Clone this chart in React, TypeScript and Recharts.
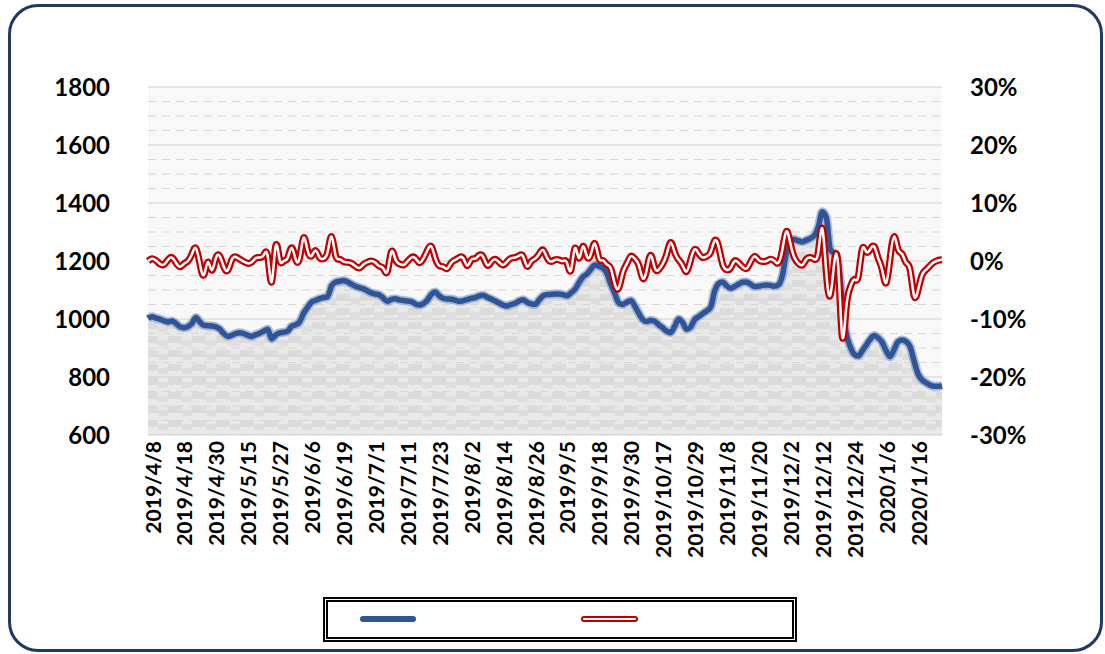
import React from 'react';
import { ComposedChart, Area, Line, XAxis, YAxis, CartesianGrid, ReferenceLine } from 'recharts';

// trading days, 2019/4/8 - 2020/2/4
const dates = [
  '2019/4/8', '2019/4/9', '2019/4/10', '2019/4/11', '2019/4/12', '2019/4/15', '2019/4/16', '2019/4/17', '2019/4/18', '2019/4/19',
  '2019/4/22', '2019/4/23', '2019/4/24', '2019/4/25', '2019/4/26', '2019/4/29', '2019/4/30',
  '2019/5/6', '2019/5/7', '2019/5/8', '2019/5/9', '2019/5/10', '2019/5/13', '2019/5/14', '2019/5/15', '2019/5/16', '2019/5/17',
  '2019/5/20', '2019/5/21', '2019/5/22', '2019/5/23', '2019/5/24', '2019/5/27', '2019/5/28', '2019/5/29', '2019/5/30', '2019/5/31',
  '2019/6/3', '2019/6/4', '2019/6/5', '2019/6/6', '2019/6/10', '2019/6/11', '2019/6/12', '2019/6/13', '2019/6/14',
  '2019/6/17', '2019/6/18', '2019/6/19', '2019/6/20', '2019/6/21', '2019/6/24', '2019/6/25', '2019/6/26', '2019/6/27', '2019/6/28',
  '2019/7/1', '2019/7/2', '2019/7/3', '2019/7/4', '2019/7/5', '2019/7/8', '2019/7/9', '2019/7/10', '2019/7/11', '2019/7/12',
  '2019/7/15', '2019/7/16', '2019/7/17', '2019/7/18', '2019/7/19', '2019/7/22', '2019/7/23', '2019/7/24', '2019/7/25', '2019/7/26',
  '2019/7/29', '2019/7/30', '2019/7/31',
  '2019/8/1', '2019/8/2', '2019/8/5', '2019/8/6', '2019/8/7', '2019/8/8', '2019/8/9', '2019/8/12', '2019/8/13', '2019/8/14',
  '2019/8/15', '2019/8/16', '2019/8/19', '2019/8/20', '2019/8/21', '2019/8/22', '2019/8/23', '2019/8/26', '2019/8/27', '2019/8/28',
  '2019/8/29', '2019/8/30',
  '2019/9/2', '2019/9/3', '2019/9/4', '2019/9/5', '2019/9/6', '2019/9/9', '2019/9/10', '2019/9/11', '2019/9/12', '2019/9/16',
  '2019/9/17', '2019/9/18', '2019/9/19', '2019/9/20', '2019/9/23', '2019/9/24', '2019/9/25', '2019/9/26', '2019/9/27', '2019/9/30',
  '2019/10/8', '2019/10/9', '2019/10/10', '2019/10/11', '2019/10/14', '2019/10/15', '2019/10/16', '2019/10/17', '2019/10/18',
  '2019/10/21', '2019/10/22', '2019/10/23', '2019/10/24', '2019/10/25', '2019/10/28', '2019/10/29', '2019/10/30', '2019/10/31',
  '2019/11/1', '2019/11/4', '2019/11/5', '2019/11/6', '2019/11/7', '2019/11/8', '2019/11/11', '2019/11/12', '2019/11/13', '2019/11/14',
  '2019/11/15', '2019/11/18', '2019/11/19', '2019/11/20', '2019/11/21', '2019/11/22', '2019/11/25', '2019/11/26', '2019/11/27',
  '2019/11/28', '2019/11/29',
  '2019/12/2', '2019/12/3', '2019/12/4', '2019/12/5', '2019/12/6', '2019/12/9', '2019/12/10', '2019/12/11', '2019/12/12', '2019/12/13',
  '2019/12/16', '2019/12/17', '2019/12/18', '2019/12/19', '2019/12/20', '2019/12/23', '2019/12/24', '2019/12/25', '2019/12/26',
  '2019/12/27', '2019/12/30', '2019/12/31',
  '2020/1/2', '2020/1/3', '2020/1/6', '2020/1/7', '2020/1/8', '2020/1/9', '2020/1/10', '2020/1/13', '2020/1/14', '2020/1/15',
  '2020/1/16', '2020/1/17', '2020/1/20', '2020/1/21', '2020/1/22', '2020/1/23',
  '2020/2/3', '2020/2/4',
];

const price = [
  1002, 1008, 1003, 999, 994, 990, 993, 985, 973, 970,
  974, 985, 1005, 990, 978, 977, 976, 973, 965, 950,
  940, 944, 950, 953, 950, 944, 940, 946, 951, 958,
  965, 932, 945, 952, 954, 958, 975, 980, 990, 1020,
  1040, 1058, 1064, 1070, 1074, 1077, 1115, 1127, 1130, 1133,
  1128, 1120, 1113, 1108, 1104, 1097, 1090, 1086, 1083, 1072,
  1060, 1068, 1070, 1066, 1064, 1062, 1060, 1052, 1048, 1053,
  1065, 1085, 1093, 1080, 1071, 1069, 1068, 1065, 1061, 1063,
  1067, 1071, 1074, 1080, 1082, 1075, 1069, 1062, 1055, 1048,
  1045, 1050, 1054, 1062, 1066, 1058, 1052, 1050, 1065, 1080,
  1084, 1085, 1086, 1086, 1084, 1080, 1090, 1102, 1125, 1145,
  1155, 1172, 1186, 1182, 1176, 1158, 1120, 1088, 1055, 1050,
  1058, 1064, 1045, 1020, 998, 991, 996, 992, 980, 970,
  958, 953, 975, 1000, 988, 965, 972, 998, 1008, 1018,
  1028, 1040, 1095, 1122, 1128, 1115, 1106, 1112, 1120, 1127,
  1128, 1120, 1112, 1113, 1116, 1117, 1116, 1113, 1118, 1150,
  1230, 1275, 1274, 1270, 1266, 1272, 1278, 1288, 1318, 1370,
  1350, 1240, 1225, 1190, 1060, 950, 905, 878, 872, 890,
  910, 930, 943, 935, 920, 890, 870, 895, 922, 928,
  922, 905, 855, 810, 790, 780, 772, 768, 768, 770,
];

const change = [
  0, 0.4, 0.1, -0.5, -0.6, 0.2, 0.6, -0.3, -1.0, -0.5,
  0.0, 1.2, 2.2, -0.5, -2.4, -0.2, -1.6, 0.5, 0.8, -1.0,
  -1.6, 0.2, 0.7, 0.3, -0.1, -0.4, -0.2, 0.5, 0.6, 1.0,
  0.8, -3.6, 2.6, 0.2, 0.0, 0.5, 2.3, 0.3, 0.5, 4.0,
  1.8, 0.9, 1.8, 0.6, 0.4, 1.5, 4.2, 1.0, 0.3, -0.1,
  -0.2, -0.4, -0.9, -1.2, -0.6, -0.2, 0.0, -0.3, -0.9, -1.3,
  -1.8, 1.6, 0.3, -0.5, -0.7, -0.1, 0.6, 0.5, -0.3, 0.4,
  1.8, 2.5, 0.5, -0.8, -1.0, -1.3, -0.3, 0.2, 0.6, 0.5,
  -0.8, 0.2, 0.4, 1.0, 0.7, -0.7, -0.2, 0.3, -0.2, -0.7,
  -0.1, 0.5, 0.6, 0.9, 0.8, -0.9, -0.1, 0.4, 1.2, 1.9,
  0.6, -0.1, 0.2, 0.2, 0.0, -0.3, -1.6, 2.2, 0.5, 2.5,
  0.8, 1.2, 3.0, 0.5, 0.1, -0.6, -1.3, -4.0, -4.6, -2.0,
  -0.5, 0.8, 0.4, -0.7, -3.0, -1.5, 1.0, -1.2, -1.5, -0.5,
  1.2, 3.2, 1.5, 0.2, -0.8, -1.8, 0.2, 2.0, 1.3, 0.6,
  0.8, 1.5, 3.5, 2.5, -0.5, -1.5, -1.2, 0.0, -0.3, -1.0,
  -1.3, -0.2, 0.8, 0.2, -0.1, 0.0, 0.3, 0.0, -0.3, 2.0,
  5.1, 3.0, 0.6, -0.4, -0.7, 0.3, 0.6, 0.3, 1.6, 5.6,
  -2.0, -5.9, -0.3, -1.0, -13.0, -8.0, -4.5, -3.2, -2.7, 2.0,
  1.6, 2.0, 2.5, 0.5, -1.5, -3.8, 0.5, 4.2, 2.0, 1.2,
  -0.3, -1.5, -6.0, -5.0, -2.4, -1.5, -0.8, -0.2, 0.1, 0.2,
];

const leftTicks = [600, 800, 1000, 1200, 1400, 1600, 1800];
const minorLines = [650, 700, 750, 850, 900, 950, 1050, 1100, 1150, 1250, 1300, 1350, 1450, 1500, 1550, 1650, 1700, 1750];
const rightTicks = [-30, -20, -10, 0, 10, 20, 30];

const data = dates.map((d, i) => ({ date: d, price: price[i], change: change[i] }));

const FONT = 'Lato, "Open Sans", sans-serif';

const DateTick = (props: any) => {
  const { x, y, payload } = props;
  const tx = x + 4;
  return (
    <text
      x={tx}
      y={y}
      transform={`rotate(-90 ${tx} ${y})`}
      textAnchor="end"
      dominantBaseline="central"
      fontFamily={FONT}
      fontWeight={700}
      fontSize={21}
      fill="#000"
    >
      {payload.value}
    </text>
  );
};

const tickStyle = { fontFamily: FONT, fontWeight: 700, fontSize: 24, fill: '#000' };

const App: React.FC = () => {
  return (
    <div style={{ position: 'absolute', left: 0, top: 0, width: 1105, height: 654, background: '#fff' }}>
      <div
        style={{
          position: 'absolute',
          left: 8,
          top: 4,
          width: 1095,
          height: 648,
          border: '3px solid #203864',
          borderRadius: 30,
          boxSizing: 'border-box',
        }}
      />
      <div style={{ position: 'absolute', left: 0, top: 0 }}>
        <ComposedChart width={1105} height={654} data={data} margin={{ top: 87, right: 0, bottom: 0, left: 0 }}>
          <defs>
            <pattern id="grayFill" patternUnits="userSpaceOnUse" width="24" height="14">
              <rect x="0" y="0" width="24" height="14" fill="#e9e9e9" />
              <rect x="0" y="0" width="14" height="7" fill="#dbdbdb" />
              <rect x="14" y="4" width="10" height="6" fill="#dedede" />
            </pattern>
          </defs>
          <CartesianGrid horizontal={false} vertical={false} fill="#f8f8f8" />
          <XAxis
            dataKey="date"
            interval={7}
            axisLine={false}
            tickLine={false}
            tickSize={0}
            tickMargin={6}
            height={219}
            tick={<DateTick />}
          />
          <YAxis
            yAxisId="left"
            domain={[600, 1800]}
            ticks={leftTicks}
            width={148}
            axisLine={false}
            tickLine={false}
            tickSize={0}
            tickMargin={38}
            tick={tickStyle}
          />
          <YAxis
            yAxisId="right"
            orientation="right"
            domain={[-30, 30]}
            ticks={rightTicks}
            width={163}
            axisLine={false}
            tickLine={false}
            tickSize={0}
            tickMargin={28}
            tick={{ ...tickStyle, textAnchor: 'start' }}
            tickFormatter={(v: number) => `${v}%`}
          />
          <Area
            yAxisId="left"
            type="monotone"
            dataKey="price"
            stroke="none"
            fill="url(#grayFill)"
            fillOpacity={1}
            isAnimationActive={false}
          />
          {minorLines.map((v) => (
            <ReferenceLine key={`m${v}`} yAxisId="left" y={v} stroke="#d6d6d6" strokeDasharray="8 6" />
          ))}
          {leftTicks.map((v) => (
            <ReferenceLine key={`M${v}`} yAxisId="left" y={v} stroke="#d0d0d0" />
          ))}
          <Line
            yAxisId="left"
            type="monotone"
            dataKey="price"
            stroke="#8ea3cc"
            strokeWidth={9}
            strokeOpacity={0.7}
            dot={false}
            isAnimationActive={false}
          />
          <Line
            yAxisId="left"
            type="monotone"
            dataKey="price"
            stroke="#2f5597"
            strokeWidth={5.5}
            dot={false}
            isAnimationActive={false}
          />
          <Line
            yAxisId="right"
            type="natural"
            dataKey="change"
            stroke="#c00000"
            strokeWidth={7}
            dot={false}
            isAnimationActive={false}
          />
          <Line
            yAxisId="right"
            type="natural"
            dataKey="change"
            stroke="#ffffff"
            strokeWidth={2.5}
            dot={false}
            isAnimationActive={false}
          />
        </ComposedChart>
      </div>
      <div
        style={{
          position: 'absolute',
          left: 323,
          top: 597,
          width: 474,
          height: 45,
          border: '5px double #000',
          boxSizing: 'border-box',
          background: '#fff',
        }}
      >
        <svg width={464} height={35} style={{ display: 'block' }}>
          <line x1={35} y1={17} x2={85} y2={17} stroke="#2f5597" strokeWidth={6} strokeLinecap="round" />
          <line x1={256} y1={17} x2={307} y2={17} stroke="#c00000" strokeWidth={6} strokeLinecap="round" />
          <line x1={256} y1={17} x2={307} y2={17} stroke="#ffffff" strokeWidth={2} strokeLinecap="round" />
        </svg>
      </div>
    </div>
  );
};

export default App;
